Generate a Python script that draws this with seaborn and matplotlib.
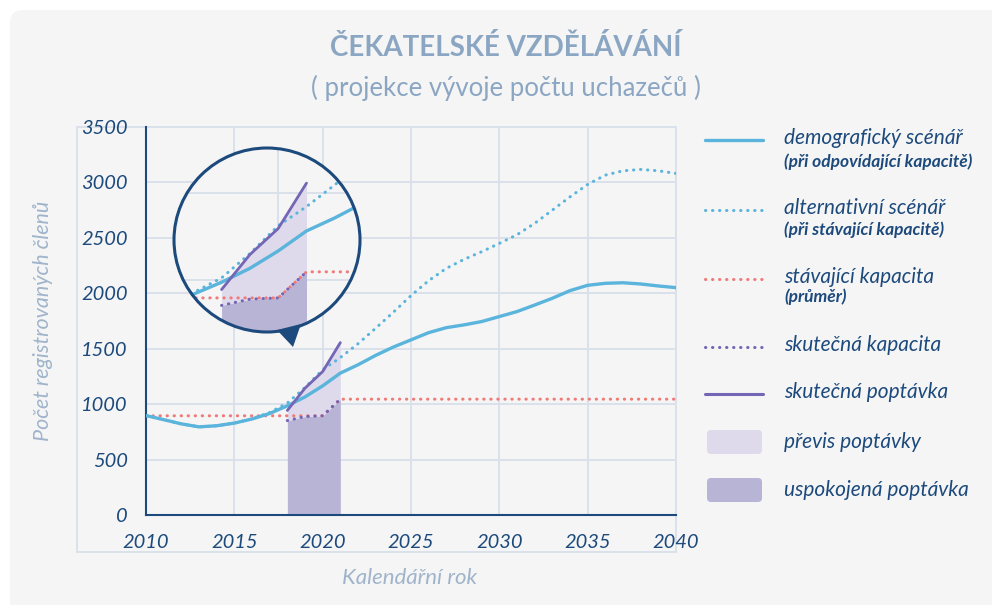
import numpy as np
import pandas as pd
import seaborn as sns
import matplotlib.pyplot as plt
from matplotlib.patches import Circle, Polygon, Rectangle, FancyBboxPatch
from matplotlib.lines import Line2D

# data
years = list(range(2010, 2041))
demograficky = [897, 860, 822, 795, 805, 829, 866, 916, 985, 1065, 1165,
                1280, 1355, 1440, 1515, 1580, 1645, 1690, 1715, 1745, 1790,
                1835, 1894, 1955, 2024, 2072, 2090, 2095, 2084, 2066, 2051]
alternativni = [897, 860, 822, 795, 805, 829, 868, 925, 1010, 1150, 1310,
                1420, 1545, 1685, 1829, 1979, 2114, 2225, 2306, 2375, 2450,
                2528, 2631, 2750, 2870, 2982, 3066, 3105, 3117, 3105, 3081]
kap_years = [2010, 2020, 2021, 2040]
kap_stavajici = [895, 895, 1045, 1045]
skut_years = [2018, 2019, 2020, 2021]
skut_poptavka = [943, 1144, 1294, 1555]
skut_kapacita = [852, 888, 895, 1045]

x_ticks = [2010, 2015, 2020, 2025, 2030, 2035, 2040]
y_ticks = [0, 500, 1000, 1500, 2000, 2500, 3000, 3500]

title = "ČEKATELSKÉ VZDĚLÁVÁNÍ"
subtitle = "( projekce vývoje počtu uchazečů )"
xlabel = "Kalendářní rok"
ylabel = "Počet registrovaných členů"
leg_labels = ["demografický scénář", "alternativní scénář", "stávající kapacita",
              "skutečná kapacita", "skutečná poptávka", "převis poptávky",
              "uspokojená poptávka"]
leg_notes = ["(při odpovídající kapacitě)", "(při stávající kapacitě)", "(průměr)",
             "", "", "", ""]

BG = "#f5f5f5"
NAVY = "#1d4a7c"
GRID = "#dae1ea"
BLUE = "#5ab4dc"
RED = "#f07a78"
PURPLE = "#7466b4"
LIGHT = "#dedaec"
DARK = "#b8b4d6"
TITLE_C = "#8ba6c3"
LABEL_C = "#9fb4cb"
DOT = (0, (0.1, 2.2))

W, H = 992, 605
sns.set_theme(style="white")
plt.rcParams['font.family'] = ['Lato', 'DejaVu Sans']

fig = plt.figure(figsize=(W / 100, H / 100), dpi=100)
fig.patch.set_facecolor("white")
T = fig.dpi_scale_trans


def P(px, py):
    # pixel position (from top-left) -> inches for dpi_scale_trans
    return px / 100, (H - py) / 100


# background panel and faint frame
fig.add_artist(FancyBboxPatch(P(10, 640), 10.5, 6.3, boxstyle="round,pad=0,rounding_size=0.13",
                              transform=T, facecolor=BG, edgecolor="none", zorder=-10))
fig.add_artist(Rectangle(P(77, 552), 5.99, 4.25, transform=T, facecolor="none",
                         edgecolor=GRID, lw=1.4, zorder=-5))


def draw_series(a):
    sns.lineplot(x=kap_years, y=kap_stavajici, ax=a, color=RED, lw=2.2,
                 linestyle=DOT, dash_capstyle="round", zorder=3)
    a.fill_between(skut_years, 0, skut_kapacita, color=DARK, lw=0, zorder=2)
    a.fill_between(skut_years, skut_kapacita, skut_poptavka, color=LIGHT, lw=0, zorder=2)
    sns.lineplot(x=years, y=alternativni, ax=a, color=BLUE, lw=2.2,
                 linestyle=DOT, dash_capstyle="round", zorder=4)
    sns.lineplot(x=years, y=demograficky, ax=a, color=BLUE, lw=2.4, zorder=5)
    sns.lineplot(x=skut_years, y=skut_kapacita, ax=a, color=PURPLE, lw=2.2,
                 linestyle=DOT, dash_capstyle="round", zorder=6)
    sns.lineplot(x=skut_years, y=skut_poptavka, ax=a, color=PURPLE, lw=2.0, zorder=6)


# main axes
ax = fig.add_axes([146 / W, 1 - 515 / H, 530 / W, 388 / H])
ax.patch.set_alpha(0)
draw_series(ax)
ax.set_xlim(2010, 2040)
ax.set_ylim(0, 3500)
ax.set_xticks(x_ticks)
ax.set_yticks(y_ticks)
ax.grid(True, color=GRID, lw=1.4)
ax.set_axisbelow(True)
for s in ["top", "right"]:
    ax.spines[s].set_visible(False)
for s in ["left", "bottom"]:
    ax.spines[s].set_color(NAVY)
    ax.spines[s].set_linewidth(1.5)
ax.tick_params(direction="inout", length=16, width=1.3, color=NAVY,
               labelcolor=NAVY, labelsize=14.5, pad=5)
ax.tick_params(axis="x", pad=6)
for lab in ax.get_xticklabels() + ax.get_yticklabels():
    lab.set_fontstyle("italic")
ax.set_xlabel("")
ax.set_ylabel("")

# magnified inset in a circle
ax_in = fig.add_axes([174 / W, 1 - 332 / H, 186 / W, 184 / H])
ax_in.set_axis_off()
face = Circle((0.5, 0.5), 0.5, transform=ax_in.transAxes, facecolor=BG,
              edgecolor="none", zorder=0)
ax_in.add_patch(face)
draw_series(ax_in)
for t in x_ticks:
    ax_in.axvline(t, color=GRID, lw=1.4, zorder=1)
for t in y_ticks:
    ax_in.axhline(t, color=GRID, lw=1.4, zorder=1)
ax_in.set_xlim(2016.32, 2022.89)
ax_in.set_ylim(699, 1757)
for art in ax_in.lines + ax_in.collections:
    art.set_clip_path(face)
ax_in.add_patch(Circle((0.5, 0.5), 0.5, transform=ax_in.transAxes, fill=False,
                       edgecolor=NAVY, lw=2.2, zorder=10, clip_on=False))
fig.add_artist(Polygon([P(277, 330), P(301, 324), P(293, 347)], closed=True,
                       transform=T, facecolor=NAVY, edgecolor="none", zorder=5))

# titles and axis labels
fig.text(*P(506, 48), title, transform=T, ha="center", va="center",
         fontsize=20, fontweight="bold", color=TITLE_C)
fig.text(*P(506, 88), subtitle, transform=T, ha="center", va="center",
         fontsize=18.5, color=TITLE_C)
fig.text(*P(43, 321), ylabel, transform=T, ha="center", va="center", rotation=90,
         fontsize=15.5, fontstyle="italic", color=LABEL_C)
fig.text(*P(410, 578), xlabel, transform=T, ha="center", va="center",
         fontsize=16, fontstyle="italic", color=LABEL_C)

# legend drawn by hand
label_y = [138, 208, 277, 345, 392, 442, 490]
note_y = [162, 230, 297]
styles = [(BLUE, "-", 2.4), (BLUE, DOT, 2.2), (RED, DOT, 2.2),
          (PURPLE, DOT, 2.2), (PURPLE, "-", 2.2)]
for i, (c, ls, lw) in enumerate(styles):
    y = label_y[i] + 2
    (x0, yy), (x1, _) = P(705, y), P(763, y)
    fig.add_artist(Line2D([x0, x1], [yy, yy], transform=T, color=c, ls=ls, lw=lw,
                          dash_capstyle="round"))
for i, c in zip([5, 6], [LIGHT, DARK]):
    fig.add_artist(FancyBboxPatch(P(707, label_y[i] + 12), 0.55, 0.24,
                                  boxstyle="round,pad=0,rounding_size=0.04",
                                  transform=T, facecolor=c, edgecolor="none"))
for i, lab in enumerate(leg_labels):
    fig.text(*P(784, label_y[i]), lab, transform=T, ha="left", va="center",
             fontsize=15, fontstyle="italic", color=NAVY)
for i, y in enumerate(note_y):
    fig.text(*P(784, y), leg_notes[i], transform=T, ha="left", va="center",
             fontsize=12.5, fontstyle="italic", fontweight="bold", color=NAVY)

fig.savefig("out.png", dpi=100)
